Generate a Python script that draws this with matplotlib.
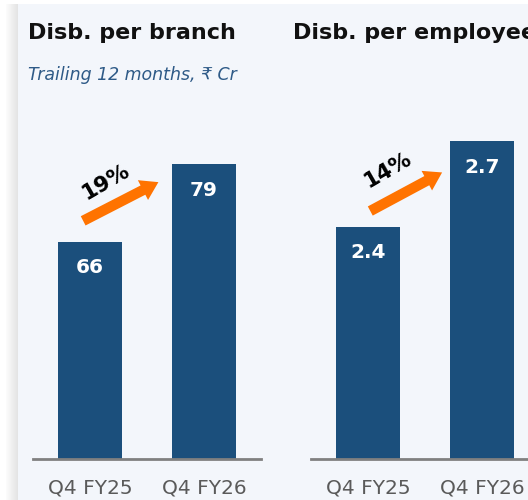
import matplotlib.pyplot as plt
from matplotlib.patches import Rectangle

# data
periods = ["Q4 FY25", "Q4 FY26"]
branch_vals = [66, 79]
employee_vals = [2.4, 2.7]
branch_labels = ["66", "79"]
employee_labels = ["2.4", "2.7"]
branch_growth = "19%"
employee_growth = "14%"

bar_color = "#1B4F7C"
arrow_color = "#FF7300"
bg_color = "#F3F6FB"

W, H = 528, 500
fig = plt.figure(figsize=(W / 100, H / 100), dpi=100)
fig.patch.set_facecolor("white")

# panel background and left shadow
fig.patches.append(Rectangle((18 / W, 0), 1, (H - 4) / H, transform=fig.transFigure,
                             facecolor=bg_color, edgecolor="none", zorder=-10))
for i in range(12):
    fig.patches.append(Rectangle(((6 + i) / W, 0), 1 / W, (H - 4) / H, transform=fig.transFigure,
                                 facecolor="#8A8A8A", alpha=0.03 + 0.018 * i, edgecolor="none", zorder=-10))


def make_panel(left_px, vals, labels, growth, ybottom, px_per_unit, tail, head, lab_pos):
    base_px = 459
    top_px = 100
    ax = fig.add_axes([left_px / W, (H - base_px) / H, 228 / W, (base_px - top_px) / H])
    ax.set_facecolor("none")
    ytop = ybottom + (base_px - top_px) / px_per_unit
    x = [0, 1]
    ax.bar(x, vals, width=0.57, color=bar_color, zorder=2)
    ax.set_xlim(-0.5, 1.5)
    ax.set_ylim(ybottom, ytop)
    for xi, v, lab in zip(x, vals, labels):
        ax.text(xi, v - 26 / px_per_unit, lab, ha="center", va="center", color="white",
                fontsize=14.5, fontweight="bold", zorder=3)
    ax.annotate("", xy=head, xytext=tail,
                arrowprops=dict(arrowstyle="simple,tail_width=0.75,head_width=1.6,head_length=1.25",
                                color=arrow_color, lw=0, shrinkA=0, shrinkB=0), zorder=4)
    ax.text(lab_pos[0], lab_pos[1], growth, ha="center", va="center", rotation=30,
            fontsize=15.5, fontweight="bold", color="black", zorder=4)
    ax.set_xticks(x)
    ax.set_xticklabels(periods, fontsize=14.5, color="#5A5A5A")
    ax.tick_params(axis="x", length=0, pad=14)
    ax.set_yticks([])
    for s in ["top", "right", "left"]:
        ax.spines[s].set_visible(False)
    ax.spines["bottom"].set_color("#808080")
    ax.spines["bottom"].set_linewidth(2)
    ax.spines["bottom"].set_zorder(3)
    return ax


make_panel(33, branch_vals, branch_labels, branch_growth, 29.5, 5.954,
           tail=(-0.06, 69.5), head=(0.6, 76.0), lab_pos=(0.14, 76.0))
make_panel(311, employee_vals, employee_labels, employee_growth, 1.587, 285.7,
           tail=(0.02, 2.455), head=(0.65, 2.59), lab_pos=(0.17, 2.6))

fig.text(28 / W, 1 - 33 / H, "Disb. per branch", fontsize=16, fontweight="bold",
         color="#111111", va="center", ha="left")
fig.text(293 / W, 1 - 33 / H, "Disb. per employee", fontsize=16, fontweight="bold",
         color="#111111", va="center", ha="left")
fig.text(28 / W, 1 - 75 / H, "Trailing 12 months, \u20b9 Cr", fontsize=12.5, style="italic",
         color="#2E5A87", va="center", ha="left")

fig.savefig("out.png", dpi=100)
